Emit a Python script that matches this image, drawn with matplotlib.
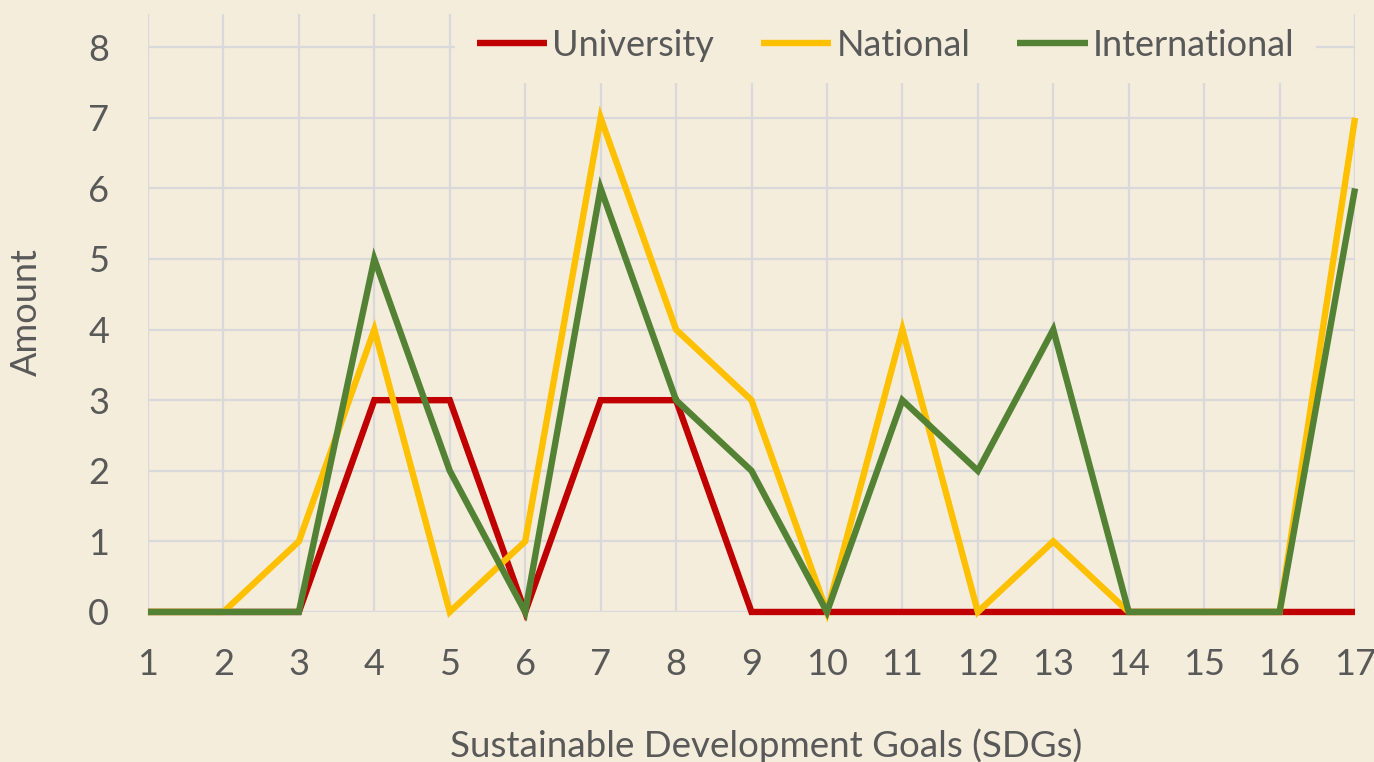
import matplotlib
matplotlib.use("Agg")
import matplotlib.pyplot as plt

# SDG number on x, amount on y
sdgs = list(range(1, 18))
university = [0, 0, 0, 3, 3, 0, 3, 3, 0, 0, 0, 0, 0, 0, 0, 0, 0]
national = [0, 0, 1, 4, 0, 1, 7, 4, 3, 0, 4, 0, 1, 0, 0, 0, 7]
international = [0, 0, 0, 5, 2, 0, 6, 3, 2, 0, 3, 2, 4, 0, 0, 0, 6]

bg = "#F5EDDC"
txt = "#595959"
grid_c = "#D9D9DC"

plt.rcParams['font.family'] = ['Lato', 'DejaVu Sans']

fig = plt.figure(figsize=(13.74, 7.62), dpi=100, facecolor=bg)
ax = fig.add_axes([0.1077, 0.1969, 0.8785, 0.7847])
ax.set_facecolor(bg)

for vals, col, name in [(university, "#C00000", "University"),
                        (national, "#FFC000", "National"),
                        (international, "#548235", "International")]:
    ax.plot(sdgs, vals, color=col, lw=4.6, label=name,
            solid_capstyle='butt', solid_joinstyle='miter', clip_on=False)

ax.set_xlim(1, 17)
ax.set_ylim(0, 8.47)
ax.set_xticks(sdgs)
ax.set_yticks(range(0, 9))
ax.grid(True, color=grid_c, lw=1.6, zorder=0)
ax.set_axisbelow(True)
for s in ax.spines.values():
    s.set_visible(False)

ax.tick_params(axis='both', length=0, labelsize=26, colors=txt)
ax.tick_params(axis='x', pad=26)
ax.tick_params(axis='y', pad=28)

fig.text(0.5575, 0.022, "Sustainable Development Goals (SDGs)", ha='center',
         va='center', fontsize=26.5, color=txt)
fig.text(0.019, 0.59, "Amount", ha='center', va='center', rotation=90,
         fontsize=26, color=txt)

leg = ax.legend(loc='center', bbox_to_anchor=(0.611, 0.948), ncol=3,
                fontsize=26, frameon=True, facecolor=bg, edgecolor='none',
                framealpha=1, handlelength=1.95, handletextpad=0.14,
                columnspacing=1.3, borderpad=0.6)
for t in leg.get_texts():
    t.set_color(txt)

fig.savefig("out.png", dpi=100, facecolor=bg)
